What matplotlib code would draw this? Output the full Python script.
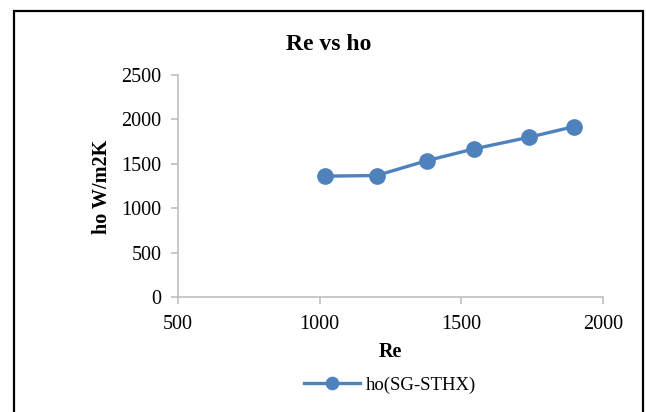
import matplotlib.pyplot as plt
from matplotlib.patches import Rectangle

plt.rcParams['font.family'] = ['Liberation Serif', 'DejaVu Serif']

re = [1020, 1201, 1380, 1545, 1739, 1898]
ho = [1361, 1368, 1537, 1668, 1799, 1919]

fig = plt.figure(figsize=(6.46, 4.12), dpi=100)
ax = fig.add_axes([178/646, 1 - 297/412, (603 - 178)/646, (297 - 75)/412])

ax.plot(re, ho, color='#4f81bd', lw=2.4, marker='o', ms=11, label='ho(SG-STHX)')

ax.set_xlim(500, 2000)
ax.set_ylim(0, 2500)
ax.set_xticks([500, 1000, 1500, 2000])
ax.set_yticks([0, 500, 1000, 1500, 2000, 2500])

for s in ['top', 'right']:
    ax.spines[s].set_visible(False)
for s in ['left', 'bottom']:
    ax.spines[s].set_color('#bfbfbf')
    ax.spines[s].set_linewidth(1.2)
ax.tick_params(colors='#bfbfbf', labelcolor='black', labelsize=14.5, length=5, width=1.2)
ax.tick_params(axis='y', pad=7)
ax.tick_params(axis='x', pad=8)

fig.text(329/646, 1 - 45/412, 'Re vs ho', ha='center', va='center', fontsize=17, fontweight='bold')
fig.text(390/646, 1 - 352/412, 'Re', ha='center', va='center', fontsize=14.5, fontweight='bold')
fig.text(102/646, 1 - 187/412, 'ho W/m2K', ha='center', va='center', fontsize=14.5,
         fontweight='bold', rotation=90)

fig.legend(loc='center', bbox_to_anchor=(390/646, 1 - 385/412), frameon=False,
           fontsize=13.5, handlelength=3.0, handletextpad=0.3, markerscale=0.8)

# outer black frame
fig.patches.append(Rectangle((14/646, -0.05), (643 - 14)/646, 1.05 - 11/412,
                             transform=fig.transFigure, fill=False, ec='black', lw=1.6))

fig.savefig('out.png', dpi=100)
